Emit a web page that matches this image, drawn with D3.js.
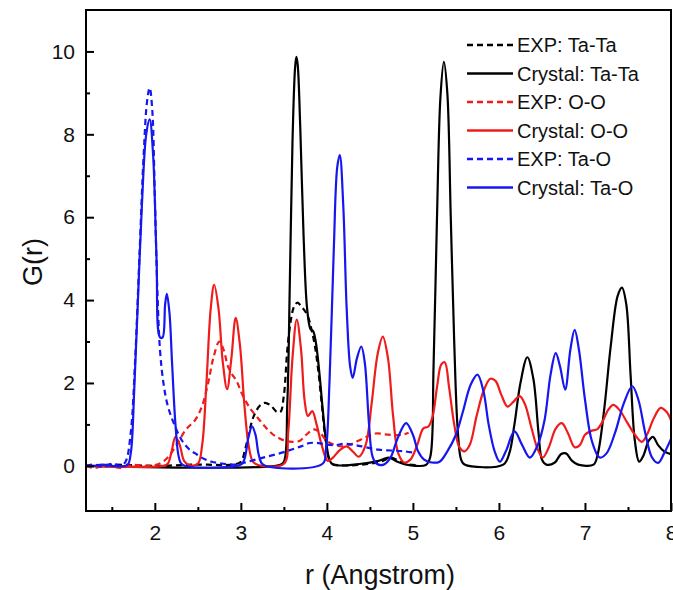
<!DOCTYPE html>
<html><head><meta charset="utf-8">
<script src="https://cdn.jsdelivr.net/npm/d3@7"></script>
<style>html,body{margin:0;padding:0;background:#fff}svg{display:block}</style>
</head><body>
<svg id="c" width="673" height="590"></svg>
<script>
// ---- data (r in Angstrom, G(r)) ----
const expTaTa = [[1.2,0],[1.5,0.03],[2.0,0],[2.5,0.03],[2.9,0.03],[3.0,0.1],[3.05,0.4],[3.1,0.85],[3.15,1.2],[3.22,1.45],[3.28,1.52],[3.35,1.45],[3.42,1.3],[3.46,1.3],[3.5,1.7],[3.54,2.8],[3.58,3.5],[3.62,3.85],[3.66,3.94],[3.7,3.85],[3.74,3.75],[3.78,3.6],[3.82,3.3],[3.86,2.9],[3.9,2.3],[3.94,1.5],[3.98,0.7],[4.02,0.2],[4.06,0.05],[4.5,0.05],[4.65,0.12],[4.75,0.2],[4.85,0.1],[4.95,0.03],[5.05,0.02]];
const crysTaTa = [[1.2,0],[3.45,0.02],[3.5,0.1],[3.54,1.5],[3.57,4.5],[3.6,7.8],[3.63,9.6],[3.645,9.87],[3.66,9.7],[3.69,8.2],[3.73,5.5],[3.77,3.8],[3.81,3.3],[3.84,3.25],[3.87,3.0],[3.91,2.3],[3.95,1.4],[3.99,0.6],[4.03,0.15],[4.07,0.03],[4.4,0.05],[4.6,0.12],[4.72,0.2],[4.82,0.1],[4.95,0.02],[5.15,0.02],[5.2,0.2],[5.24,2.4],[5.28,6.0],[5.32,8.9],[5.36,9.75],[5.4,9.0],[5.44,6.0],[5.48,3.0],[5.52,0.9],[5.56,0.15],[5.6,0.03],[6.05,0.03],[6.12,0.3],[6.18,1.0],[6.25,2.0],[6.33,2.62],[6.4,2.1],[6.46,0.8],[6.5,0.15],[6.55,0.03],[6.65,0.08],[6.72,0.28],[6.78,0.3],[6.85,0.12],[6.92,0.03],[7.1,0.03],[7.15,0.3],[7.22,1.3],[7.3,2.9],[7.38,4.1],[7.43,4.3],[7.48,3.9],[7.53,2.2],[7.58,0.6],[7.63,0.1],[7.68,0.25],[7.74,0.6],[7.79,0.7],[7.85,0.5],[7.92,0.35],[8.0,0.28]];
const expOO = [[1.2,0],[1.3,-0.05],[1.45,0.02],[1.6,-0.05],[1.75,0.02],[1.9,0],[2.05,0.05],[2.15,0.2],[2.25,0.5],[2.36,0.87],[2.47,1.11],[2.55,1.45],[2.62,2.0],[2.68,2.6],[2.75,3.0],[2.8,2.8],[2.85,2.4],[2.9,2.2],[2.95,2.05],[3.0,1.8],[3.06,1.55],[3.12,1.35],[3.2,1.15],[3.28,0.95],[3.36,0.78],[3.44,0.67],[3.52,0.6],[3.6,0.58],[3.68,0.6],[3.76,0.75],[3.85,0.88],[3.92,0.8],[4.0,0.6],[4.1,0.5],[4.18,0.47],[4.28,0.52],[4.38,0.62],[4.48,0.72],[4.57,0.78],[4.68,0.76],[4.78,0.74],[4.88,0.75],[4.95,0.8]];
const crysOO = [[1.2,0],[2.1,0],[2.15,0.05],[2.19,0.3],[2.24,0.7],[2.29,0.5],[2.34,0.12],[2.4,0.02],[2.5,0.05],[2.55,0.5],[2.6,2.0],[2.65,3.8],[2.69,4.37],[2.74,3.8],[2.79,2.5],[2.84,1.85],[2.89,2.6],[2.94,3.57],[2.99,2.9],[3.04,1.5],[3.09,0.5],[3.14,0.1],[3.2,0.02],[3.5,0.05],[3.55,0.8],[3.6,2.6],[3.65,3.53],[3.7,2.8],[3.74,1.6],[3.78,1.2],[3.83,1.32],[3.88,1.0],[3.94,0.5],[4.01,0.12],[4.07,0.2],[4.15,0.38],[4.23,0.47],[4.3,0.35],[4.37,0.22],[4.45,0.5],[4.52,1.5],[4.59,2.7],[4.65,3.12],[4.71,2.6],[4.77,1.2],[4.83,0.3],[4.9,0.08],[4.97,0.15],[5.05,0.5],[5.12,0.9],[5.18,0.95],[5.23,1.2],[5.28,1.9],[5.33,2.45],[5.37,2.5],[5.42,1.9],[5.48,1.0],[5.54,0.45],[5.6,0.35],[5.66,0.5],[5.74,1.2],[5.82,1.8],[5.9,2.1],[5.96,2.05],[6.03,1.7],[6.1,1.43],[6.17,1.55],[6.24,1.68],[6.3,1.5],[6.38,0.9],[6.45,0.4],[6.51,0.2],[6.58,0.45],[6.66,0.9],[6.73,1.03],[6.8,0.8],[6.88,0.45],[6.94,0.5],[7.0,0.75],[7.08,0.85],[7.14,0.88],[7.2,1.05],[7.27,1.35],[7.33,1.47],[7.4,1.35],[7.49,1.05],[7.58,0.75],[7.66,0.58],[7.72,0.75],[7.8,1.15],[7.88,1.4],[7.95,1.3],[8.0,1.1]];
const expTaO = [[1.2,0],[1.3,0.03],[1.4,-0.03],[1.5,0.05],[1.6,0],[1.66,0.1],[1.72,0.8],[1.77,2.5],[1.82,5.0],[1.87,7.5],[1.91,8.8],[1.94,9.12],[1.97,8.6],[2.0,6.5],[2.03,4.2],[2.06,2.8],[2.1,2.0],[2.15,1.45],[2.22,1.03],[2.31,0.63],[2.4,0.4],[2.47,0.3],[2.56,0.18],[2.66,0.1],[2.8,0.05],[2.95,0.03],[3.05,0.08],[3.17,0.15],[3.3,0.22],[3.45,0.3],[3.6,0.4],[3.7,0.47],[3.8,0.55],[3.9,0.55],[4.0,0.51],[4.1,0.5],[4.2,0.53],[4.33,0.5],[4.45,0.45],[4.6,0.39],[4.75,0.37],[4.9,0.35],[5.03,0.31]];
const crysTaO = [[1.2,0],[1.3,0],[1.4,0.03],[1.5,0],[1.68,0.02],[1.72,0.3],[1.76,1.8],[1.8,3.8],[1.85,6.3],[1.9,8.0],[1.94,8.36],[1.98,7.5],[2.02,5.0],[2.06,3.1],[2.09,3.1],[2.12,3.9],[2.14,4.15],[2.17,3.7],[2.2,2.5],[2.24,1.0],[2.28,0.2],[2.32,0.03],[3.0,0.03],[3.04,0.15],[3.09,0.7],[3.13,0.95],[3.17,0.75],[3.21,0.25],[3.26,0.03],[3.95,0.05],[3.99,0.4],[4.03,2.0],[4.08,5.2],[4.12,7.2],[4.15,7.5],[4.19,6.3],[4.23,3.8],[4.27,2.4],[4.3,2.12],[4.35,2.6],[4.4,2.88],[4.44,2.5],[4.49,1.0],[4.53,0.23],[4.58,0.05],[4.66,0.03],[4.74,0.2],[4.82,0.65],[4.92,1.03],[5.0,0.75],[5.06,0.35],[5.13,0.15],[5.22,0.08],[5.31,0.1],[5.4,0.35],[5.5,0.75],[5.58,1.3],[5.67,1.95],[5.75,2.2],[5.82,1.8],[5.88,1.0],[5.95,0.35],[6.01,0.1],[6.08,0.35],[6.18,0.83],[6.27,0.5],[6.36,0.2],[6.45,0.5],[6.53,1.1],[6.6,2.2],[6.66,2.72],[6.71,2.4],[6.77,1.84],[6.83,2.8],[6.88,3.28],[6.93,2.8],[7.0,1.6],[7.08,0.6],[7.17,0.2],[7.25,0.3],[7.35,0.8],[7.45,1.5],[7.55,1.92],[7.62,1.6],[7.7,0.8],[7.78,0.2],[7.85,0.07],[7.92,0.3],[8.0,0.65]];

const seriesNames = ["EXP: Ta-Ta","Crystal: Ta-Ta","EXP: O-O","Crystal: O-O","EXP: Ta-O","Crystal: Ta-O"];
const seriesData = [expTaTa, crysTaTa, expOO, crysOO, expTaO, crysTaO];
const seriesColors = ["#000000","#000000","#f01c1c","#f01c1c","#1616f0","#1616f0"];
const seriesDashed = [true,false,true,false,true,false];
const xTicks = [2,3,4,5,6,7,8];
const yTicks = [0,2,4,6,8,10];
const xLabel = "r (Angstrom)";
const yLabel = "G(r)";

// ---- layout ----
const L = 86, R = 671, T = 10, B = 511;
const svg = d3.select("#c");
const x = d3.scaleLinear().domain([1.2, 8]).range([L, R]);
const y = d3.scaleLinear().domain([-1.09, 11.0]).range([B, T]);

svg.append("clipPath").attr("id","clip").append("rect")
  .attr("x",L).attr("y",T).attr("width",R-L).attr("height",B-T);

const line = d3.line().x(d=>x(d[0])).y(d=>y(d[1])).curve(d3.curveCatmullRom.alpha(0.5));
const g = svg.append("g").attr("clip-path","url(#clip)");
seriesData.forEach((s,i)=>{
  g.append("path").attr("d", line(s)).attr("fill","none")
   .attr("stroke", seriesColors[i]).attr("stroke-width", 2.2)
   .attr("stroke-linejoin","round")
   .attr("stroke-dasharray", seriesDashed[i] ? "6,4" : null);
});

// axes (ticks inward)
const fontFam = "Arial, 'Liberation Sans', Helvetica, sans-serif";
const xAxis = d3.axisBottom(x).tickValues(xTicks).tickSize(-8).tickPadding(14).tickFormat(d3.format("d"));
const xMinor = d3.axisBottom(x).tickValues(d3.range(1.5, 8, 1)).tickSize(-4).tickFormat("");
const yAxis = d3.axisLeft(y).tickValues(yTicks).tickSize(-8).tickPadding(11).tickFormat(d3.format("d"));
const yMinor = d3.axisLeft(y).tickValues([1,3,5,7,9]).tickSize(-4).tickFormat("");

function style(sel){
  sel.select(".domain").remove();
  sel.selectAll(".tick line").attr("stroke","#000").attr("stroke-width",2);
  sel.selectAll(".tick text").attr("font-family",fontFam).attr("font-size",21).attr("fill","#111");
}
svg.append("g").attr("transform",`translate(0,${B})`).call(xAxis).call(style);
svg.append("g").attr("transform",`translate(0,${B})`).call(xMinor).call(style);
svg.append("g").attr("transform",`translate(${L},0)`).call(yAxis).call(style);
svg.append("g").attr("transform",`translate(${L},0)`).call(yMinor).call(style);

svg.append("rect").attr("x",L).attr("y",T).attr("width",R-L).attr("height",B-T)
  .attr("fill","none").attr("stroke","#000").attr("stroke-width",2);

svg.append("text").attr("x",380).attr("y",584).attr("text-anchor","middle")
  .attr("font-family",fontFam).attr("font-size",27).attr("fill","#111").text(xLabel);
svg.append("text").attr("transform","translate(42,262) rotate(-90)").attr("text-anchor","middle")
  .attr("font-family",fontFam).attr("font-size",27).attr("fill","#111").text(yLabel);

// legend
const lg = svg.append("g");
seriesNames.forEach((n,i)=>{
  const yy = 45 + i*28.5;
  lg.append("line").attr("x1",467).attr("x2",513).attr("y1",yy).attr("y2",yy)
    .attr("stroke",seriesColors[i]).attr("stroke-width",2.4)
    .attr("stroke-dasharray", seriesDashed[i] ? "6,4" : null);
  lg.append("text").attr("x",517).attr("y",yy).attr("dy","0.36em")
    .attr("font-family",fontFam).attr("font-size",20).attr("fill","#111").text(n);
});
</script>
</body></html>
